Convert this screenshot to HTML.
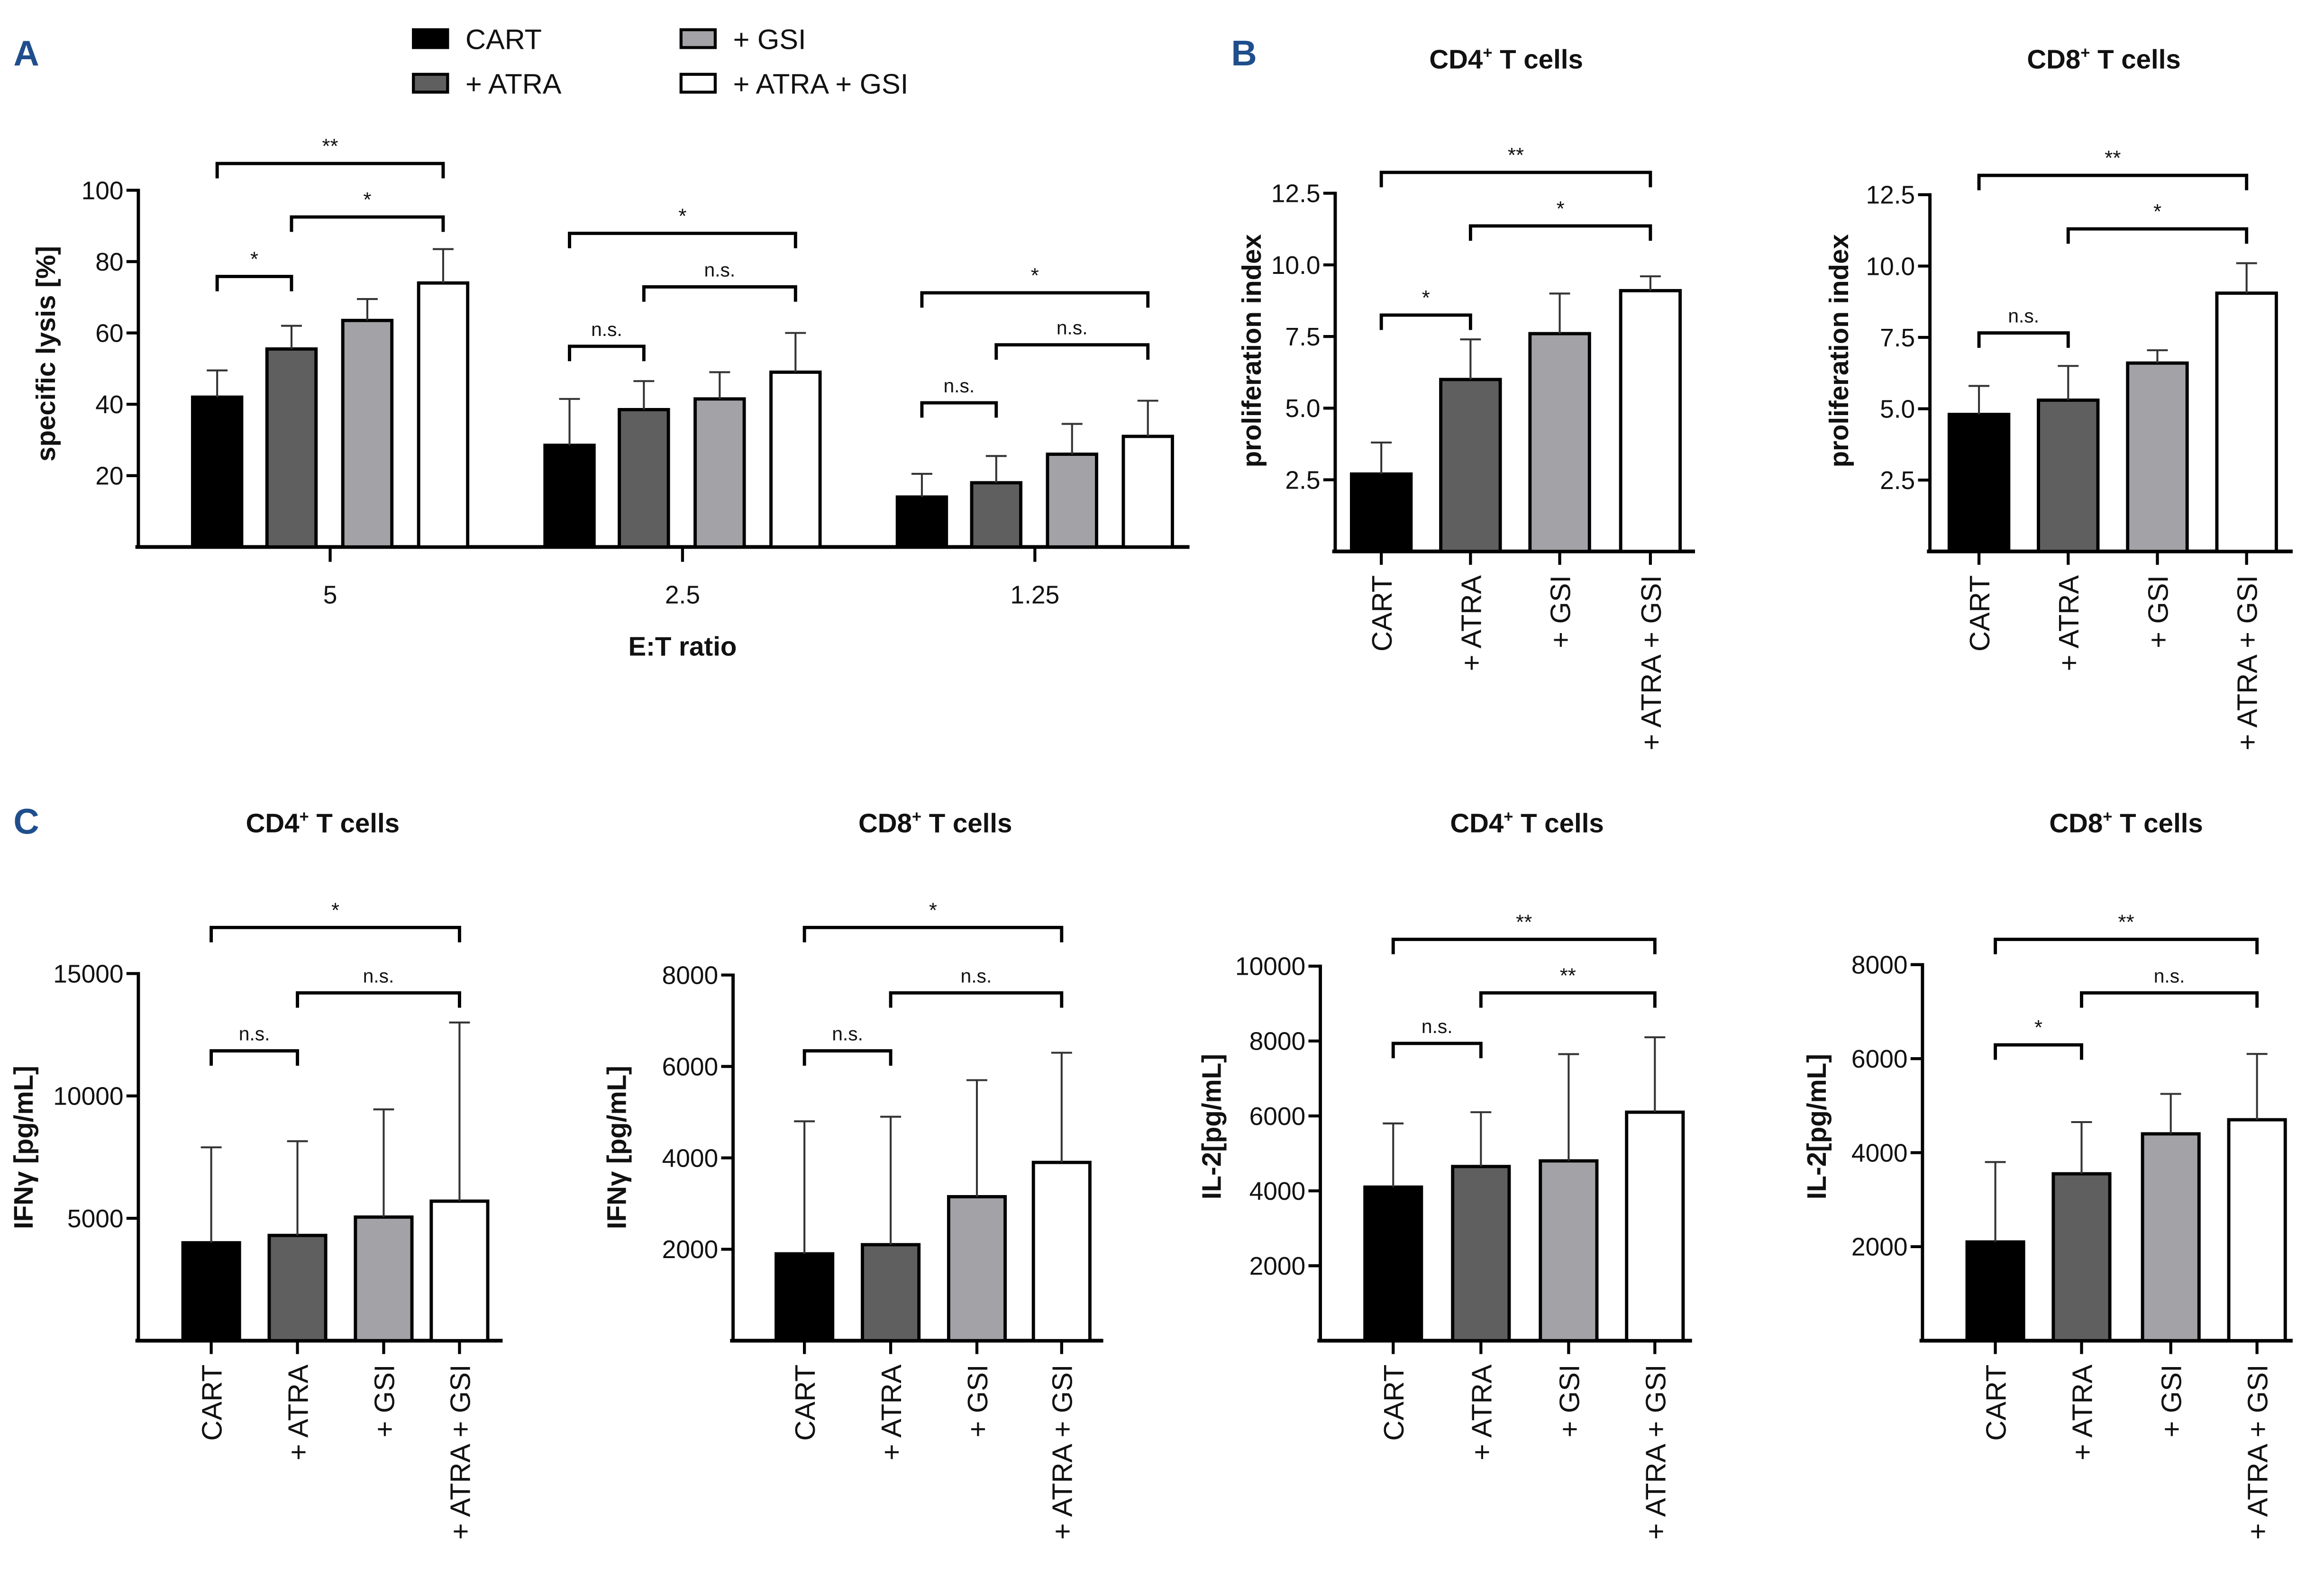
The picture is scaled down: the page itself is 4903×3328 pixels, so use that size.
<!DOCTYPE html>
<html><head><meta charset="utf-8"><style>html,body{margin:0;padding:0;background:#fff}svg{display:block}text{font-family:"Liberation Sans",sans-serif}</style></head>
<body>
<svg id="fig" xmlns="http://www.w3.org/2000/svg" width="4903" height="3328" viewBox="0 0 1563 1061"></svg>
<script>
const groups = ["CART", "+ ATRA", "+ GSI", "+ ATRA + GSI"];
const fills = ["#000000", "#5f5f5f", "#a2a2a7", "#ffffff"];
// Panel A
const aCategories = ["5", "2.5", "1.25"];
const aValues = [[42, 55.5, 63.5, 74], [28.5, 38.5, 41.5, 49], [14, 18, 26, 31]];
const aErrors = [[49.5, 62, 69.5, 83.5], [41.5, 46.5, 49, 60], [20.5, 25.5, 34.5, 41]];
const aTicks = [20, 40, 60, 80, 100];
// Panel B
const bCd4Values = [2.7, 6.0, 7.6, 9.1];
const bCd4Errors = [3.8, 7.4, 9.0, 9.6];
const bCd8Values = [4.8, 5.3, 6.6, 9.05];
const bCd8Errors = [5.8, 6.5, 7.05, 10.1];
const bTicks = [2.5, 5.0, 7.5, 10.0, 12.5];
// Panel C
const cIfn4Values = [4000, 4300, 5050, 5700];
const cIfn4Errors = [7900, 8150, 9450, 13000];
const cIfn4Ticks = [5000, 10000, 15000];
const cIfn8Values = [1900, 2100, 3150, 3900];
const cIfn8Errors = [4800, 4900, 5700, 6300];
const cIfn8Ticks = [2000, 4000, 6000, 8000];
const cIl4Values = [4100, 4650, 4800, 6100];
const cIl4Errors = [5800, 6100, 7650, 8100];
const cIl4Ticks = [2000, 4000, 6000, 8000, 10000];
const cIl8Values = [2100, 3550, 4400, 4700];
const cIl8Errors = [3800, 4650, 5250, 6100];
const cIl8Ticks = [2000, 4000, 6000, 8000];

const svg = document.getElementById('fig');
const NS = 'http://www.w3.org/2000/svg';
function el(tag, attrs, parent) {
  const e = document.createElementNS(NS, tag);
  for (const k in attrs) e.setAttribute(k, attrs[k]);
  (parent || svg).appendChild(e);
  return e;
}
function txt(x, y, s, size, opts, parent) {
  const t = el('text', Object.assign({x: x, y: y, 'font-size': size, fill: '#111'}, opts || {}), parent);
  t.textContent = s;
  return t;
}
function bracket(x1, x2, y, label, g) {
  const p = el('path', {d: `M${x1} ${y+10}V${y}H${x2}V${y+10}`, fill: 'none', stroke: '#000', 'stroke-width': 2.2}, g);
  
  
  const t = txt((x1 + x2) / 2, y - 7, label, label === 'n.s.' ? 13 : 14, {'text-anchor': 'middle'}, g);
  
  
}
function bar(x, w, yv, ye, y0, fill, g) {
  const r = el('rect', {x: x - w / 2, y: yv, width: w, height: y0 - yv, fill: fill, stroke: '#000', 'stroke-width': 2.2}, g);
  
  
  const e = el('path', {d: `M${x} ${yv}V${ye}M${x - 7} ${ye}H${x + 7}`, stroke: '#333', 'stroke-width': 1.3, fill: 'none'}, g);
  
  
}
function yAxis(ax, yTop, y0, max, ticks, fmt, g, xEnd) {
  const sy = v => y0 - (y0 - yTop) * v / max;
  el('line', {x1: ax, y1: yTop - 1, x2: ax, y2: y0, stroke: '#000', 'stroke-width': 2.2}, g);
  el('line', {x1: ax - 2, y1: y0, x2: xEnd, y2: y0, stroke: '#000', 'stroke-width': 2.5}, g);
  ticks.forEach(t => {
    el('line', {x1: ax - 8, y1: sy(t), x2: ax, y2: sy(t), stroke: '#000', 'stroke-width': 2}, g);
    const l = txt(ax - 10, sy(t) + 6, fmt(t), 17, {'text-anchor': 'end'}, g);
    
    
  });
  return sy;
}
function panelLetter(x, y, s) {
  const t = txt(x, y, s, 24, {'font-weight': 'bold', fill: '#1f4e8c'});
  
  
}
panelLetter(9, 44, 'A'); panelLetter(828, 44, 'B'); panelLetter(9, 561, 'C');

// Legend
const lg = el('g', {});


[[278, 20, 313, 0], [278, 50, 313, 1], [458, 20, 493, 2], [458, 50, 493, 3]].forEach(p => {
  el('rect', {x: p[0], y: p[1], width: 23, height: 12, fill: fills[p[3]], stroke: '#000', 'stroke-width': 2}, lg);
  const t = txt(p[2], p[1] + 13, groups[p[3]], 19, {}, lg);
  
  
});

// Panel A chart
const ga = el('g', {});


const aSy = yAxis(93, 128, 368, 100, aTicks, v => String(v), ga, 800);
const aGroupX = [222, 459, 696];
const aOffsets = [-76, -26, 25, 76];
aCategories.forEach((c, i) => {
  el('line', {x1: aGroupX[i], y1: 368, x2: aGroupX[i], y2: 378, stroke: '#000', 'stroke-width': 2}, ga);
  const l = txt(aGroupX[i], 406, c, 17, {'text-anchor': 'middle'}, ga);
  
  
  aValues[i].forEach((v, j) => bar(aGroupX[i] + aOffsets[j], 33, aSy(v), aSy(aErrors[i][j]), 368, fills[j], ga));
});
[[0, 3, 110, '**'], [1, 3, 146, '*'], [0, 1, 186, '*']].forEach(b => {
  aGroupX.forEach((gx, i) => {});
});
const aBr = [
  [[0, 3, 110, '**'], [1, 3, 146, '*'], [0, 1, 186, '*']],
  [[0, 3, 157, '*'], [1, 3, 193, 'n.s.'], [0, 1, 233, 'n.s.']],
  [[0, 3, 197, '*'], [1, 3, 232, 'n.s.'], [0, 1, 271, 'n.s.']]
];
aBr.forEach((list, i) => list.forEach(b => bracket(aGroupX[i] + aOffsets[b[0]], aGroupX[i] + aOffsets[b[1]], b[2], b[3], ga)));
let t = txt(37, 238, 'specific lysis [%]', 18, {'font-weight': 'bold', 'text-anchor': 'middle', transform: 'rotate(-90 37 238)'}, ga);


t = txt(459, 441, 'E:T ratio', 18, {'font-weight': 'bold', 'text-anchor': 'middle'}, ga);



// Generic 4-bar chart
function smallChart(cfg) {
  const g = el('g', {});
  
  
  const sy = yAxis(cfg.ax, cfg.yTop, cfg.y0, cfg.max, cfg.ticks, cfg.fmt, g, cfg.xEnd);
  cfg.xs.forEach((x, j) => {
    bar(x, cfg.w, sy(cfg.values[j]), sy(cfg.errors[j]), cfg.y0, fills[j], g);
    el('line', {x1: x, y1: cfg.y0, x2: x, y2: cfg.y0 + 9, stroke: '#000', 'stroke-width': 2}, g);
    const ly = cfg.y0 + 16;
    const l = txt(x + 7, ly, groups[j], 19, {'text-anchor': 'end', transform: `rotate(-90 ${x + 7} ${ly})`}, g);
    
    
  });
  cfg.brackets.forEach(b => bracket(cfg.xs[b[0]], cfg.xs[b[1]], b[2], b[3], g));
  const ti = txt(cfg.titleX, cfg.titleY, '', 18, {'font-weight': 'bold', 'text-anchor': 'middle'}, g);
  ti.innerHTML = cfg.title + '<tspan font-size="11" dy="-7">+</tspan><tspan dy="7"> T cells</tspan>';
  
  
  const yt = txt(cfg.ytX, cfg.ytY, cfg.yTitle, 18, {'font-weight': 'bold', 'text-anchor': 'middle', transform: `rotate(-90 ${cfg.ytX} ${cfg.ytY})`}, g);
  
  
}
const f1 = v => v.toFixed(1);
const f0 = v => String(v);
smallChart({name: 'panel-b-cd4-proliferation', ax: 898, xEnd: 1140, yTop: 130, y0: 371, max: 12.5, ticks: bTicks, fmt: f1, xs: [929, 989, 1049, 1110], w: 40, values: bCd4Values, errors: bCd4Errors,
  brackets: [[0, 3, 116, '**'], [1, 3, 152, '*'], [0, 1, 212, '*']], title: 'CD4', titleX: 1013, titleY: 46, yTitle: 'proliferation index', ytX: 848, ytY: 236});
smallChart({name: 'panel-b-cd8-proliferation', ax: 1298, xEnd: 1542, yTop: 131, y0: 371, max: 12.5, ticks: bTicks, fmt: f1, xs: [1331, 1391, 1451, 1511], w: 40, values: bCd8Values, errors: bCd8Errors,
  brackets: [[0, 3, 118, '**'], [1, 3, 154, '*'], [0, 1, 224, 'n.s.']], title: 'CD8', titleX: 1415, titleY: 46, yTitle: 'proliferation index', ytX: 1243, ytY: 236});
smallChart({name: 'panel-c-cd4-ifng', ax: 93, xEnd: 338, yTop: 655, y0: 902, max: 15000, ticks: cIfn4Ticks, fmt: f0, xs: [142, 200, 258, 309], w: 38, values: cIfn4Values, errors: cIfn4Errors,
  brackets: [[0, 3, 624, '*'], [1, 3, 668, 'n.s.'], [0, 1, 707, 'n.s.']], title: 'CD4', titleX: 217, titleY: 560, yTitle: 'IFNγ [pg/mL]', ytX: 22, ytY: 772});
smallChart({name: 'panel-c-cd8-ifng', ax: 493, xEnd: 742, yTop: 656, y0: 902, max: 8000, ticks: cIfn8Ticks, fmt: f0, xs: [541, 599, 657, 714], w: 38, values: cIfn8Values, errors: cIfn8Errors,
  brackets: [[0, 3, 624, '*'], [1, 3, 668, 'n.s.'], [0, 1, 707, 'n.s.']], title: 'CD8', titleX: 629, titleY: 560, yTitle: 'IFNγ [pg/mL]', ytX: 421, ytY: 772});
smallChart({name: 'panel-c-cd4-il2', ax: 888, xEnd: 1138, yTop: 650, y0: 902, max: 10000, ticks: cIl4Ticks, fmt: f0, xs: [937, 996, 1055, 1113], w: 38, values: cIl4Values, errors: cIl4Errors,
  brackets: [[0, 3, 632, '**'], [1, 3, 668, '**'], [0, 1, 702, 'n.s.']], title: 'CD4', titleX: 1027, titleY: 560, yTitle: 'IL-2[pg/mL]', ytX: 821, ytY: 758});
smallChart({name: 'panel-c-cd8-il2', ax: 1293, xEnd: 1542, yTop: 649, y0: 902, max: 8000, ticks: cIl8Ticks, fmt: f0, xs: [1342, 1400, 1460, 1518], w: 38, values: cIl8Values, errors: cIl8Errors,
  brackets: [[0, 3, 632, '**'], [1, 3, 668, 'n.s.'], [0, 1, 703, '*']], title: 'CD8', titleX: 1430, titleY: 560, yTitle: 'IL-2[pg/mL]', ytX: 1228, ytY: 758});
</script>
</body></html>
